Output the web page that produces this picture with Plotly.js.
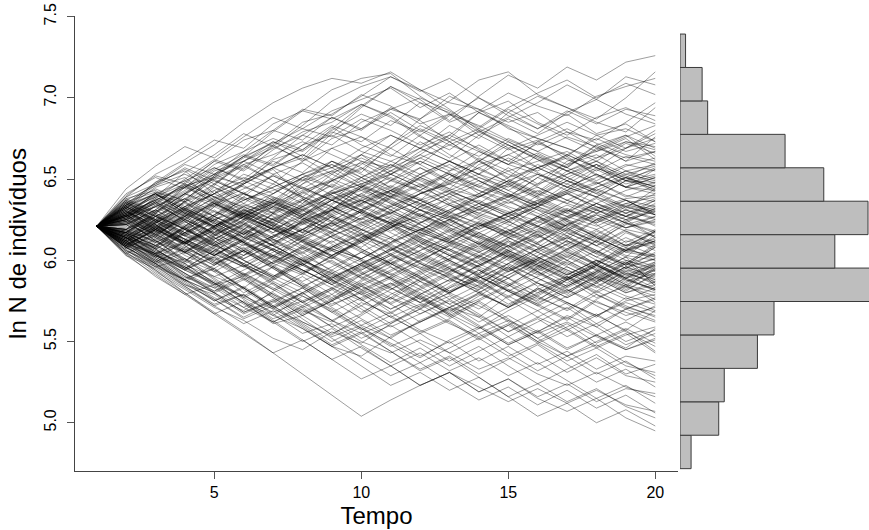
<!DOCTYPE html>
<html>
<head>
<meta charset="utf-8">
<script src="https://cdn.plot.ly/plotly-3.0.1.min.js"></script>
<style>html,body{margin:0;padding:0;background:#fff}</style>
</head>
<body>
<div id="chart" style="width:869px;height:530px"></div>
<script>
// Tempo (passos da simulação)
const tempo = [1,2,3,4,5,6,7,8,9,10,11,12,13,14,15,16,17,18,19,20];
// ln N no tempo 1 (valores em centésimos)
const lnN0 = 621;
// Trajetórias de ln N para os tempos 2..20 (em centésimos)
const trajetorias = [
[634,648,655,641,657,670,662,678,694,707,699,686,701,714,706,719,711,722,726],
[630,619,637,652,664,679,692,705,712,715,701,690,679,688,697,708,699,713,708],
[611,626,617,633,642,629,647,661,654,671,687,698,711,716,702,694,687,700,716],
[629,641,631,646,661,673,664,681,695,707,697,685,692,703,695,689,701,707,712],
[617,631,646,651,647,662,668,682,671,664,677,689,700,691,681,692,684,693,689],
[635,627,619,633,647,656,639,653,665,677,669,683,675,691,701,694,685,679,694],
[626,638,650,662,656,671,685,690,701,713,705,697,693,685,691,679,674,685,697],
[609,602,619,628,641,635,651,645,661,657,673,663,677,687,678,691,699,690,684],
[629,641,631,624,639,653,660,650,665,658,669,677,669,661,672,665,675,667,672],
[613,623,636,643,629,623,637,649,657,644,637,651,661,673,664,657,669,677,664],
[639,647,656,647,661,671,661,675,681,691,680,671,664,675,667,659,671,661,676],
[604,613,599,615,627,617,631,643,636,649,661,653,645,657,647,661,667,673,668],
[622,614,629,619,611,626,618,634,646,639,653,644,659,665,673,681,672,665,661],
[632,645,651,637,647,657,665,657,647,639,651,661,653,669,677,685,677,669,680],
[615,608,621,634,648,661,654,669,661,653,665,677,691,682,671,679,669,663,667],
[628,618,610,625,633,625,617,631,645,653,663,655,667,659,673,664,677,681,673],
[608,619,631,623,614,629,641,649,656,669,659,673,681,693,684,675,667,675,662],
[641,651,644,656,665,659,671,677,667,661,653,661,651,645,657,665,657,669,678],
[623,636,627,643,651,644,635,649,659,671,683,675,691,683,675,669,661,672,666],
[611,621,613,605,619,609,625,637,643,651,643,655,661,651,665,657,671,677,669],
[636,625,641,655,661,669,677,671,685,693,687,701,693,681,675,669,663,673,670],
[617,629,621,635,627,641,653,645,635,645,657,647,661,671,662,655,663,669,675],
[627,633,623,637,629,621,635,647,639,653,661,653,645,639,651,643,656,647,652],
[610,604,617,627,619,633,645,637,651,659,651,644,639,649,657,649,643,651,645],
[634,646,657,649,641,635,647,655,663,655,667,675,667,659,653,647,657,649,657],
[616,625,615,609,603,615,623,633,625,639,647,639,631,641,633,645,653,645,641],
[630,620,631,641,653,647,661,669,676,665,659,649,643,635,643,635,645,653,649],
[607,617,625,617,631,623,615,627,619,611,623,631,641,649,641,653,661,653,658],
[638,643,633,647,659,665,673,665,657,649,643,653,641,651,657,663,653,645,643],
[619,611,605,617,627,635,627,641,647,655,647,635,629,623,635,643,651,659,655],
[627,635,647,639,633,625,617,629,637,643,653,661,671,661,655,665,657,651,660],
[612,623,633,641,649,657,649,661,651,641,633,641,631,625,633,641,647,655,647],
[632,623,615,627,635,647,639,631,645,655,663,671,679,671,663,655,647,655,650],
[614,608,599,613,623,614,627,637,629,641,651,659,649,641,635,647,639,649,644],
[625,633,643,653,645,639,633,643,651,661,669,661,653,663,654,645,653,645,656],
[633,641,629,621,633,641,651,657,665,653,645,653,643,637,647,653,659,649,648],
[609,619,627,615,625,633,625,635,645,635,627,639,647,655,661,667,657,649,653],
[628,637,629,645,635,627,619,631,641,649,657,649,663,655,645,637,645,651,642],
[618,612,625,635,625,637,649,655,645,659,649,641,649,639,651,659,665,655,659],
[637,629,641,651,659,649,639,633,625,633,641,649,657,665,657,649,659,645,651],
[611,621,611,603,613,623,631,639,631,623,635,643,651,643,653,645,639,649,646],
[625,615,627,639,647,657,665,657,669,677,669,661,653,647,639,649,641,651,645],
[628,619,611,621,629,637,629,621,631,639,631,625,635,627,637,643,635,629,634],
[613,625,633,625,617,609,619,627,635,643,651,643,635,627,621,631,623,633,628],
[634,641,649,657,649,641,651,659,651,643,635,627,619,629,637,629,623,631,638],
[617,609,601,593,603,611,619,611,621,629,637,629,639,647,639,631,625,635,631],
[627,635,625,617,627,635,643,649,639,631,641,647,653,643,635,629,639,631,625],
[610,619,627,635,627,619,611,603,613,621,627,635,641,633,627,637,629,623,632],
[632,623,633,641,649,657,663,653,645,639,631,625,617,625,633,641,633,627,637],
[619,629,619,611,621,613,605,615,623,629,637,643,635,629,621,615,625,631,626],
[637,646,653,645,637,645,653,661,653,645,637,629,623,617,627,619,629,635,639],
[614,607,617,625,631,623,615,607,601,611,619,627,633,639,631,625,619,627,623],
[625,633,641,633,625,617,625,631,637,629,623,631,639,647,653,645,639,633,628],
[608,615,605,597,607,615,623,631,623,633,641,647,639,649,641,635,629,637,633],
[629,637,645,653,661,653,645,637,631,623,617,611,621,627,633,625,635,627,622],
[615,623,631,621,631,639,631,623,615,609,603,613,621,629,635,641,633,627,635],
[633,625,617,609,617,625,633,641,647,653,645,637,629,637,627,621,631,637,629],
[622,630,638,630,622,614,622,630,638,646,638,630,622,616,626,634,626,620,627],
[612,604,612,620,628,636,628,638,644,636,628,620,614,608,618,626,632,638,640],
[628,618,628,636,644,652,644,654,660,650,642,634,628,622,614,622,628,620,624],
[636,642,632,624,616,626,634,642,634,626,620,612,606,616,624,632,624,634,630],
[617,627,635,627,637,645,653,659,649,641,635,627,621,629,635,627,621,629,621],
[624,616,626,634,626,620,614,622,630,638,646,654,646,640,634,642,648,640,636],
[609,619,611,621,629,621,613,607,601,611,619,625,631,639,645,637,631,625,632],
[631,639,647,639,631,625,633,641,649,657,665,657,649,641,633,627,635,627,633],
[614,606,598,608,616,624,632,624,634,642,650,642,636,630,624,618,612,622,627],
[627,617,627,635,641,633,627,637,629,623,617,611,605,613,619,627,633,625,630],
[630,621,611,603,614,620,608,601,613,622,614,606,598,609,616,606,618,609,613],
[613,622,610,621,630,636,626,619,612,604,596,590,584,598,607,615,605,614,606],
[634,625,616,628,637,643,650,640,630,623,613,606,596,589,601,610,619,609,617],
[616,606,597,590,583,596,607,615,622,630,620,612,603,594,605,614,604,597,604],
[626,635,624,614,607,598,591,603,612,620,631,638,627,619,610,602,594,606,611],
[610,601,590,581,591,599,608,599,590,582,593,601,610,618,627,615,606,597,608],
[631,640,649,639,628,619,609,618,626,634,643,634,625,617,608,600,612,605,602],
[618,608,620,631,620,609,600,589,598,606,614,623,633,640,631,620,609,619,615],
[627,616,605,613,622,630,638,628,619,610,601,593,603,612,602,594,587,598,609],
[611,603,594,586,578,570,580,590,598,607,615,624,614,624,615,607,616,625,614],
[638,630,641,650,658,649,638,627,616,608,599,591,583,593,603,612,602,595,605],
[615,624,632,623,614,606,597,588,597,606,616,625,615,606,615,624,614,606,618],
[629,619,610,619,610,600,592,583,575,584,592,601,611,602,593,602,612,603,600],
[608,598,588,597,606,615,624,632,641,631,622,613,605,614,623,631,622,611,619],
[624,633,642,650,641,632,623,614,605,597,606,614,623,614,605,597,606,598,610],
[633,622,612,604,596,588,597,606,614,623,631,622,614,605,597,589,598,607,612],
[614,622,613,605,596,605,614,623,631,640,631,622,613,604,596,588,597,606,603],
[628,637,646,637,628,619,628,637,646,637,628,619,610,602,611,620,611,602,616],
[617,609,600,609,618,609,600,592,584,593,602,611,620,629,620,611,602,612,608],
[635,627,619,610,619,628,637,646,637,628,619,610,601,593,602,594,586,596,601],
[612,620,629,620,611,602,594,586,595,604,613,604,596,605,614,623,614,606,614],
[626,614,603,595,606,597,586,577,588,599,590,581,592,603,595,586,597,589,594],
[609,600,612,603,591,582,592,603,612,621,611,600,590,581,573,584,593,602,596],
[632,641,631,620,611,601,612,621,630,622,612,603,595,586,578,588,597,588,582],
[615,605,596,587,578,588,599,608,617,608,598,589,580,591,600,610,600,592,587],
[622,631,622,613,622,613,603,594,585,594,603,595,586,577,587,596,587,596,590],
[613,623,632,641,632,622,613,602,593,583,574,584,594,585,595,604,595,586,598],
[629,620,610,620,629,638,628,617,607,598,589,580,590,581,590,599,589,580,585],
[606,597,588,580,571,562,572,582,591,600,609,600,591,601,610,600,590,581,592],
[636,628,619,610,601,610,619,610,601,592,584,593,602,611,602,593,584,593,599],
[617,627,617,607,598,589,580,589,598,607,598,589,580,571,580,589,598,589,581],
[625,616,606,615,624,633,642,633,624,614,604,595,586,595,586,577,586,595,588],
[611,602,592,583,592,582,572,563,572,582,591,600,609,600,591,600,591,582,591],
[631,621,630,620,611,602,593,602,611,620,629,620,611,602,593,584,593,584,596],
[619,628,619,609,600,590,600,591,582,573,582,591,600,609,600,591,600,591,583],
[627,636,645,636,626,616,607,598,589,580,571,580,589,598,607,598,589,598,593],
[608,599,608,599,590,599,608,617,626,617,608,599,590,581,572,581,590,599,586],
[634,625,616,607,598,589,598,607,616,625,616,607,598,589,580,589,580,589,597],
[614,604,594,603,613,622,612,602,592,583,574,565,575,584,593,584,593,602,584],
[623,614,605,614,605,596,587,596,605,614,605,596,587,578,569,578,587,596,589],
[610,620,611,601,592,583,574,583,592,601,610,619,610,601,592,583,592,583,595],
[630,639,630,621,612,603,594,585,594,603,612,603,594,585,576,585,594,585,580],
[616,607,616,625,616,607,598,589,598,589,580,571,580,589,598,607,598,589,599],
[625,634,625,616,625,634,625,616,607,598,589,580,589,598,589,580,589,580,587],
[612,603,594,585,594,603,594,585,576,585,594,603,612,603,594,603,594,585,594],
[633,624,615,606,615,606,597,588,579,570,579,588,597,606,597,588,597,588,582],
[618,627,636,627,618,609,600,609,600,591,582,573,582,591,600,591,600,591,598],
[628,615,604,611,597,590,602,588,579,586,574,583,594,581,572,563,575,566,571],
[610,598,605,593,580,589,601,612,600,589,577,568,580,571,582,573,561,570,576],
[635,624,636,622,611,598,605,593,582,590,579,567,578,589,577,570,581,572,565],
[616,607,595,602,589,577,566,575,587,596,584,573,562,571,583,574,566,575,579],
[623,631,620,609,617,606,594,585,597,588,576,586,597,605,593,582,574,568,562],
[606,596,588,577,569,581,590,579,591,600,590,579,570,582,573,564,576,585,574],
[631,618,626,614,601,610,598,587,596,604,593,581,588,576,565,557,566,574,568],
[619,609,621,610,600,591,583,594,605,596,587,595,584,573,582,590,579,570,577],
[612,604,595,606,597,587,578,568,577,586,576,567,558,569,578,569,579,571,566],
[627,638,628,616,605,613,601,590,580,589,578,569,576,585,574,582,572,563,572],
[614,602,611,599,588,596,585,576,586,577,567,575,566,556,565,574,566,557,569],
[633,624,613,603,612,601,592,600,589,598,587,576,585,596,586,577,586,578,573],
[609,619,609,598,606,595,584,575,584,574,583,592,581,571,579,588,577,584,578],
[625,612,601,590,597,585,574,582,570,559,567,576,565,553,562,571,559,548,555],
[611,599,607,594,583,571,579,588,576,565,556,564,574,562,550,559,567,556,547],
[630,622,611,600,608,596,584,573,580,568,557,549,558,566,556,545,554,562,553],
[617,605,594,602,591,579,568,576,585,573,562,570,559,548,556,565,554,546,558],
[604,596,585,576,565,574,583,571,560,568,577,566,555,563,552,541,550,558,549],
[626,636,624,612,600,590,598,587,576,565,573,562,551,560,569,558,547,555,543],
[613,603,592,581,589,578,567,575,564,554,562,571,560,549,557,546,554,545,552],
[622,611,620,608,597,586,575,583,572,561,570,578,567,556,564,553,561,550,557],
[608,598,587,595,583,572,580,569,558,547,555,563,552,560,549,557,546,554,559],
[632,620,609,598,606,595,584,592,581,570,578,566,575,564,552,561,549,557,544],
[610,598,586,575,584,572,561,550,559,548,537,546,555,543,532,541,530,538,527],
[624,612,600,589,577,586,574,563,552,560,549,538,547,535,524,533,542,530,536],
[605,594,583,572,561,569,558,547,555,544,533,541,530,539,548,536,525,533,522],
[628,617,605,594,583,571,580,568,557,566,555,543,552,541,549,538,546,535,531],
[614,602,591,580,588,577,566,555,563,552,541,550,538,547,536,544,533,541,538],
[619,607,596,584,573,562,570,559,548,537,546,535,544,553,542,531,540,529,525],
[608,594,580,568,556,543,530,517,504,514,523,531,522,513,521,512,520,511,507],
[617,604,592,580,568,576,564,552,540,529,537,525,514,522,511,520,509,517,506],
[603,591,579,567,575,563,551,539,547,535,523,531,519,527,516,524,513,521,518],
[622,610,598,586,574,562,550,558,546,535,543,532,540,529,537,526,515,523,512],
[612,600,587,575,583,571,559,547,535,523,531,520,528,516,524,513,521,510,503],
[605,592,580,567,555,543,551,539,527,535,523,531,519,527,515,507,515,503,495],
[614,601,588,576,564,572,560,548,556,544,532,540,528,516,504,512,500,508,498],
[632,648,660,671,685,697,706,712,709,716,705,693,680,669,657,664,652,645,651],
[640,652,647,661,674,680,693,689,702,695,684,690,677,668,674,662,655,664,659],
[625,639,654,665,678,670,683,698,707,713,704,712,700,689,681,690,678,684,673],
[637,629,645,659,667,680,674,688,681,694,686,673,662,650,642,655,648,639,646],
[619,634,648,661,655,668,679,685,696,688,676,668,680,671,662,651,643,637,628],
[644,658,670,663,676,688,681,692,699,706,694,703,691,698,685,677,688,694,686],
[628,640,636,651,664,672,681,676,687,680,671,679,668,659,666,657,649,658,663],
[635,647,659,653,667,675,668,680,690,683,697,691,681,673,664,655,661,650,656],
[622,631,645,657,650,663,677,688,680,693,700,692,682,694,703,711,700,709,702],
[639,653,662,674,669,684,692,687,696,689,677,665,656,648,659,651,642,633,641],
[627,642,637,652,663,673,667,679,673,686,679,690,683,674,667,676,670,661,667],
[633,624,640,653,664,658,671,683,676,669,681,673,661,653,646,658,668,676,683],
[607,593,582,571,563,552,545,556,549,561,572,580,591,584,596,605,598,610,603],
[612,599,588,580,568,575,562,554,566,577,570,583,590,582,575,588,596,589,582],
[603,595,584,572,579,566,558,547,541,553,562,571,565,578,586,579,592,600,595],
[615,604,590,583,571,580,569,562,574,567,579,588,582,594,601,612,605,597,608],
[609,596,601,588,576,564,571,559,567,579,588,596,605,597,589,581,590,584,576],
[618,607,595,586,574,566,578,570,558,549,540,551,559,548,556,566,559,570,563],
[606,598,585,579,567,575,583,572,581,590,600,609,602,614,621,613,625,618,611],
[611,600,589,595,582,570,562,553,560,552,563,571,579,572,583,574,565,577,569],
[604,590,579,585,574,561,566,575,584,576,587,580,572,563,555,562,553,545,551],
[614,603,596,585,590,579,571,579,568,577,589,598,591,603,596,607,615,608,618],
[608,597,584,573,579,567,555,561,550,543,551,543,533,540,530,523,531,522,516],
[616,605,598,586,577,568,575,563,555,562,570,561,553,561,550,541,548,537,529],
[626,615,628,621,634,629,617,623,611,620,633,626,615,609,621,612,604,617,610],
[614,627,620,611,622,636,630,642,633,625,618,629,640,632,621,630,644,637,628],
[630,622,611,618,606,598,609,601,614,622,611,603,596,607,618,609,597,590,597],
[617,630,641,635,626,638,631,619,611,624,618,630,637,628,640,649,641,632,644],
[624,612,605,616,609,621,633,624,617,603,595,607,599,612,605,596,588,599,591],
[610,618,606,597,610,602,615,627,619,631,622,613,624,616,608,619,611,623,618],
[633,641,629,638,646,637,626,619,630,622,633,641,633,624,616,625,614,606,612],
[621,609,617,626,614,607,599,608,619,613,602,594,587,596,584,590,581,592,586],
[628,636,627,616,624,611,619,628,637,629,641,648,657,648,640,651,659,652,643],
[613,604,611,620,629,621,612,603,611,598,606,615,607,618,626,617,609,600,594],
[619,628,615,623,611,603,612,606,597,589,598,592,603,595,607,614,606,595,601],
[636,627,638,649,641,652,644,637,629,618,626,617,608,619,611,622,631,623,617],
[612,621,632,624,616,629,637,626,618,627,614,606,617,609,598,606,597,607,602],
[625,618,607,600,591,603,597,608,616,607,599,610,622,615,627,618,628,620,625],
[617,609,621,630,623,611,604,615,608,620,628,621,632,624,636,642,631,623,614],
[629,637,646,635,627,619,627,614,606,598,609,600,592,604,597,589,599,608,600],
[608,616,608,619,627,635,628,640,631,643,634,626,635,646,638,630,638,629,637],
[631,619,610,603,612,620,611,603,594,603,595,587,597,606,598,590,583,594,588],
[616,629,638,627,619,612,624,631,622,614,623,634,626,617,610,622,615,605,612],
[623,613,624,612,603,614,624,617,628,620,609,618,627,636,629,621,613,624,631],
[611,603,595,606,598,607,616,623,614,606,617,625,616,606,599,591,600,593,585],
[634,644,636,647,638,629,622,631,640,633,624,615,623,614,606,617,609,618,609],
[620,611,619,628,639,631,642,650,643,635,627,618,610,621,632,624,616,609,618],
[609,620,613,604,596,607,600,592,601,610,619,611,602,593,601,592,584,576,583],
[627,616,625,636,628,619,612,624,635,643,637,628,619,627,617,626,635,643,648],
[615,624,613,621,630,622,614,606,599,591,600,609,617,608,616,605,597,587,592]
];

// Histograma dos valores finais: centro das classes (largura 0,2) e contagens
const centrosClasses = [4.9,5.1,5.3,5.5,5.7,5.9,6.1,6.3,6.5,6.7,6.9,7.1,7.3];
const contagens = [2,7,8,14,17,35,28,34,26,19,5,4,1];

const tracos = trajetorias.map(function (p) {
  return {
    type: 'scatter',
    mode: 'lines',
    x: tempo,
    y: [lnN0].concat(p).map(function (v) { return v / 100; }),
    line: {color: 'rgba(0,0,0,0.38)', width: 1},
    hoverinfo: 'skip',
    xaxis: 'x', yaxis: 'y'
  };
});

tracos.push({
  type: 'bar',
  orientation: 'h',
  x: contagens,
  y: centrosClasses,
  width: 0.2,
  marker: {color: '#bebebe', line: {color: '#3a3a3a', width: 1}},
  xaxis: 'x2', yaxis: 'y2',
  hoverinfo: 'skip'
});

const fonte = 'Liberation Sans, Arial, Helvetica, sans-serif';

const layout = {
  width: 869, height: 530,
  margin: {l: 75, r: 0, t: 16, b: 59},
  paper_bgcolor: '#ffffff', plot_bgcolor: '#ffffff',
  showlegend: false,
  bargap: 0,
  font: {family: fonte, color: '#000'},
  xaxis: {
    domain: [0, 0.7594],
    range: [0.262, 20.772],
    tickvals: [5, 10, 15, 20],
    ticks: 'outside', ticklen: 7, tickcolor: '#555', tickwidth: 1,
    showline: true, linecolor: '#444', linewidth: 1,
    showgrid: false, zeroline: false,
    tickfont: {family: fonte, size: 16, color: '#000'},
    title: {text: 'Tempo', font: {family: fonte, size: 24, color: '#000'}, standoff: 6}
  },
  yaxis: {
    domain: [0, 1],
    range: [4.703, 7.504],
    tickvals: [5, 5.5, 6, 6.5, 7, 7.5],
    ticktext: ['5.0', '5.5', '6.0', '6.5', '7.0', '7.5'],
    tickangle: -90,
    ticks: 'outside', ticklen: 7, tickcolor: '#555', tickwidth: 1,
    ticklabelstandoff: 5,
    showline: true, linecolor: '#444', linewidth: 1,
    showgrid: false, zeroline: false,
    tickfont: {family: fonte, size: 16, color: '#000'},
    title: {text: 'ln N de indivíduos', font: {family: fonte, size: 24, color: '#000'}, standoff: 8}
  },
  xaxis2: {
    domain: [0.762, 1], range: [0, 34.18], anchor: 'y2',
    visible: false, fixedrange: true
  },
  yaxis2: {
    domain: [0, 1], range: [4.786, 7.508], anchor: 'x2',
    visible: false, fixedrange: true
  }
};

Plotly.newPlot('chart', tracos, layout, {displayModeBar: false, staticPlot: true});
</script>
</body>
</html>
